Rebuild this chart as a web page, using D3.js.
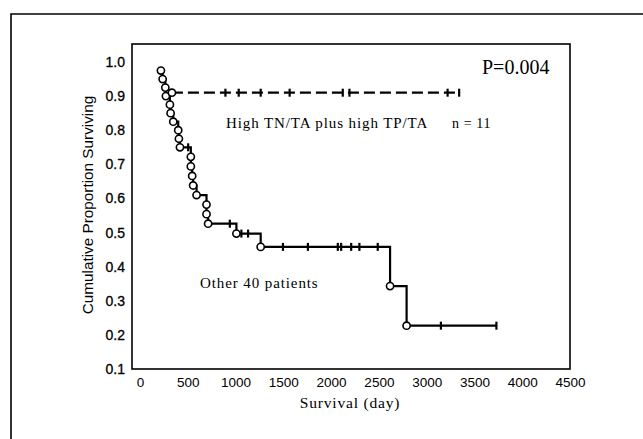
<!DOCTYPE html>
<html><head><meta charset="utf-8">
<script src="https://cdn.jsdelivr.net/npm/d3@7"></script>
<style>
html,body{margin:0;padding:0;background:#fff;}
svg{display:block;}
</style></head>
<body>
<svg id="chart" width="643" height="439"></svg>
<script>
// ---- data ----
const xTicks = [0,500,1000,1500,2000,2500,3000,3500,4000,4500];
const yTicks = [0.1,0.2,0.3,0.4,0.5,0.6,0.7,0.8,0.9,1.0];

// "Other 40 patients": event times (days) and survival after each event
const otherEventDays = [219,237,265,271,313,320,348,400,407,418,532,532,546,556,592,696,696,713,1009,1263,2617,2790];
const otherEventSurv = [0.975,0.95,0.925,0.9,0.875,0.85,0.825,0.8,0.775,0.75,0.722,0.694,0.666,0.638,0.61,0.582,0.554,0.526,0.497,0.458,0.343,0.227];
const otherCensorDays = [504,940,1061,1131,1496,1757,2070,2105,2210,2296,2488,3149,3730];

// "High TN/TA plus high TP/TA, n = 11"
const highEventDays = [334];
const highEventSurv = [0.91];
const highCensorDays = [894,1033,1263,1566,2122,2192,3219,3340];

const pLabel = "P=0.004";

// ---- drawing ----
const svg = d3.select("#chart");
const box = {left:132, right:570, top:44, bottom:369};
const x = d3.scaleLinear().domain([0,4500]).range([140,570]);
const y = d3.scaleLinear().domain([0.1,1.0]).range([369,62]);
const serif = "Liberation Serif, Times New Roman, serif";
const sans = "Liberation Sans, Arial, sans-serif";

// outer frame (extends past image on right/bottom)
svg.append("path").attr("d","M11,439 L11,14 L643,14")
  .attr("fill","none").attr("stroke","#000").attr("stroke-width",1.6);

// plot box
svg.append("rect").attr("x",box.left).attr("y",box.top)
  .attr("width",box.right-box.left).attr("height",box.bottom-box.top)
  .attr("fill","none").attr("stroke","#000").attr("stroke-width",1.6);

// axes
const xAxis = svg.append("g").attr("transform",`translate(0,${box.bottom})`)
  .call(d3.axisBottom(x).tickValues(xTicks).tickSize(0).tickPadding(8).tickFormat(d3.format("d")));
xAxis.select(".domain").remove();
xAxis.selectAll("text").attr("font-family",sans).attr("font-size",13.5).attr("fill","#000");

const yAxis = svg.append("g").attr("transform",`translate(${box.left},0)`)
  .call(d3.axisLeft(y).tickValues(yTicks).tickSize(0).tickPadding(7).tickFormat(d3.format(".1f")));
yAxis.select(".domain").remove();
yAxis.selectAll("text").attr("font-family",sans).attr("font-size",14).attr("fill","#000")
  .attr("stroke","#000").attr("stroke-width",0.3);

// axis titles
svg.append("text").attr("x",350).attr("y",408).attr("text-anchor","middle")
  .attr("font-family",serif).attr("font-size",15.5).attr("letter-spacing",0.8)
  .text("Survival (day)");
svg.append("text").attr("transform","translate(93,205) rotate(-90)").attr("text-anchor","middle")
  .attr("font-family",sans).attr("font-size",15.3)
  .text("Cumulative Proportion Surviving");

// step path builder
function stepPath(evDays, evSurv, endDay){
  const pts = [];
  for(let i=0;i<evDays.length;i++){
    if(i>0) pts.push([evDays[i], evSurv[i-1]]);
    pts.push([evDays[i], evSurv[i]]);
  }
  pts.push([endDay, evSurv[evSurv.length-1]]);
  return d3.line().x(d=>x(d[0])).y(d=>y(d[1]))(pts);
}
function survAt(evDays, evSurv, t){
  let s = 1;
  for(let i=0;i<evDays.length;i++) if(evDays[i]<=t) s = evSurv[i];
  return s;
}

// other group (solid)
svg.append("path").attr("d", stepPath(otherEventDays, otherEventSurv, d3.max(otherCensorDays)))
  .attr("fill","none").attr("stroke","#000").attr("stroke-width",2.2);
// high group (dashed)
svg.append("path").attr("d", stepPath(highEventDays, highEventSurv, d3.max(highCensorDays)))
  .attr("fill","none").attr("stroke","#000").attr("stroke-width",2.2).attr("stroke-dasharray","11,5");

// censor marks
function censors(days, evDays, evSurv){
  svg.append("g").selectAll("line").data(days).join("line")
    .attr("x1",d=>x(d)).attr("x2",d=>x(d))
    .attr("y1",d=>y(survAt(evDays,evSurv,d))-4).attr("y2",d=>y(survAt(evDays,evSurv,d))+4)
    .attr("stroke","#000").attr("stroke-width",2.2);
}
censors(otherCensorDays, otherEventDays, otherEventSurv);
censors(highCensorDays, highEventDays, highEventSurv);

// event circles
function events(days, surv){
  svg.append("g").selectAll("circle").data(days.map((d,i)=>[d,surv[i]])).join("circle")
    .attr("cx",d=>x(d[0])).attr("cy",d=>y(d[1])).attr("r",3.6)
    .attr("fill","#fff").attr("stroke","#000").attr("stroke-width",1.6);
}
events(otherEventDays, otherEventSurv);
events(highEventDays, highEventSurv);

// annotations
svg.append("text").attr("x",482).attr("y",74)
  .attr("font-family",serif).attr("font-size",20)
  .text(pLabel);
svg.append("text").attr("x",226).attr("y",128)
  .attr("font-family",serif).attr("font-size",15).attr("letter-spacing",0.9)
  .text("High TN/TA plus high TP/TA");
svg.append("text").attr("x",452).attr("y",128)
  .attr("font-family",serif).attr("font-size",14).attr("letter-spacing",0.6)
  .text("n = 11");
svg.append("text").attr("x",200).attr("y",288)
  .attr("font-family",serif).attr("font-size",15).attr("letter-spacing",0.9)
  .text("Other 40 patients");
</script>
</body></html>
